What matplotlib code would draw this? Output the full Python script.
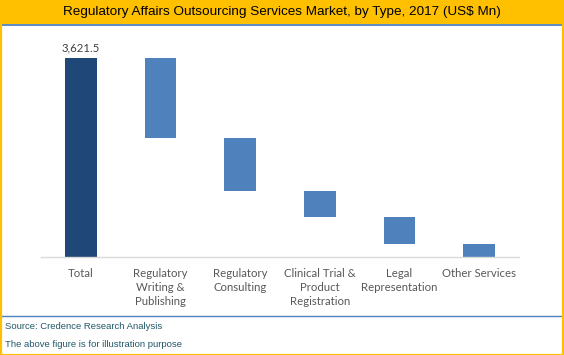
#!/usr/bin/env python3

import numpy as np
import matplotlib
matplotlib.use("Agg")
import matplotlib.pyplot as plt
from matplotlib.patches import Rectangle
from matplotlib.lines import Line2D

title = "Regulatory Affairs Outsourcing Services Market, by Type, 2017 (US$ Mn)"
categories = ["Total", "Regulatory\nWriting &\nPublishing", "Regulatory\nConsulting",
              "Clinical Trial &\nProduct\nRegistration", "Legal\nRepresentation", "Other Services"]
total = 3621.5
segments = [1456, 959, 473, 491, 242.5]
total_label = "3,621.5"
source_text = "Source: Credence Research Analysis"
note_text = "The above figure is for illustration purpose"

W, H = 564, 355
fig = plt.figure(figsize=(W / 100, H / 100), dpi=100)

def fy(py):
    return 1 - py / H

# header band and borders
fig.patches.append(Rectangle((0, fy(24)), 1, 24 / H, transform=fig.transFigure,
                             facecolor="#FFC000", edgecolor="none", zorder=0))
fig.lines.append(Line2D([0, 1], [fy(24.8), fy(24.8)], transform=fig.transFigure,
                        color="#4F81BD", lw=1.3))
fig.lines.append(Line2D([0, 1], [fy(316), fy(316)], transform=fig.transFigure,
                        color="#4F81BD", lw=1.0))
fig.patches.append(Rectangle((0.5 / W, 0.5 / H), 1 - 2 / W, 1 - 1.5 / H, transform=fig.transFigure,
                             facecolor="none", edgecolor="#FFC000", lw=1.6, zorder=5))

fig.text(0.5, fy(12), title, ha="center", va="center", fontsize=9.7,
         family="Liberation Sans", color="black")
fig.text(5 / W, fy(326.5), source_text, ha="left", va="center", fontsize=6.8,
         family="Liberation Sans", color="#215868")
fig.text(5 / W, fy(344.5), note_text, ha="left", va="center", fontsize=6.8,
         family="Liberation Sans", color="#215868")

ax = fig.add_axes([41 / W, fy(257), (519 - 41) / W, (257 - 37.2) / H])
x = np.arange(len(categories))

# waterfall
ends = total - np.cumsum(segments)
starts = np.concatenate([[total], ends[:-1]])
ax.bar(x[0], total, width=0.4, color="#1F4778")
ax.bar(x[1:], starts - ends, bottom=ends, width=0.4, color="#4F81BD")
ax.text(x[0], total + 90, total_label, ha="center", va="bottom", fontsize=8.2,
        family="Lato", color="#404040")

ax.set_xlim(-0.5, len(categories) - 0.5)
ax.set_ylim(0, 4000)
ax.set_yticks([])
for s in ["top", "right", "left"]:
    ax.spines[s].set_visible(False)
ax.spines["bottom"].set_color("#D9D9D9")
ax.spines["bottom"].set_linewidth(1.0)
ax.set_xticks(x)
ax.set_xticklabels(categories, fontsize=8.2, family="Lato", color="#595959",
                   linespacing=1.3, va="top")
ax.tick_params(axis="x", length=0, pad=8)

fig.savefig("out.png", dpi=100)
